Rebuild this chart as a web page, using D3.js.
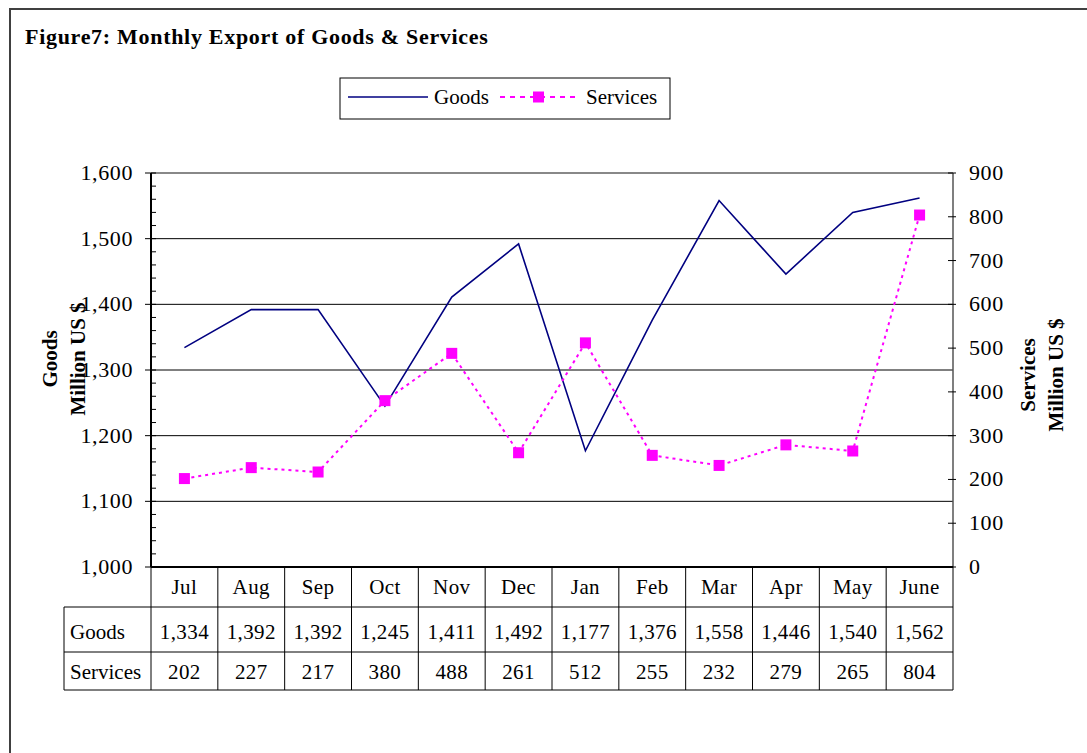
<!DOCTYPE html>
<html>
<head>
<meta charset="utf-8">
<script src="https://cdn.jsdelivr.net/npm/d3@7"></script>
<style>
    body { margin: 0; background: #fff; }
    svg { display: block; font-family: "Liberation Serif", "Times New Roman", serif; }
</style>
</head>
<body>
<div id="chart"></div>
<script>
const months = ["Jul","Aug","Sep","Oct","Nov","Dec","Jan","Feb","Mar","Apr","May","June"];
const goods = [1334,1392,1392,1245,1411,1492,1177,1376,1558,1446,1540,1562];
const services = [202,227,217,380,488,261,512,255,232,279,265,804];
const goodsTicks = [1000,1100,1200,1300,1400,1500,1600];
const servicesTicks = [0,100,200,300,400,500,600,700,800,900];

const render = () => {
    const width = 1087, height = 753;
    const left = 151, right = 953, top = 173, bottom = 567;

    let svg = d3.select("#chart").append("svg")
        .attr("width", width)
        .attr("height", height);

    // outer frame (runs off the picture on right + bottom)
    svg.append("rect")
        .attr("x", 10).attr("y", 9)
        .attr("width", 1200).attr("height", 900)
        .attr("fill", "none").attr("stroke", "#404040").attr("stroke-width", 2);

    svg.append("text")
        .attr("x", 25).attr("y", 44)
        .attr("font-size", 22).attr("font-weight", "bold")
        .attr("letter-spacing", 0.7)
        .text("Figure7: Monthly Export of Goods & Services");

    const x = d3.scaleBand().domain(months).range([left, right]);
    const yL = d3.scaleLinear().domain([1000, 1600]).range([bottom, top]);
    const yR = d3.scaleLinear().domain([0, 900]).range([bottom, top]);

    // gridlines
    svg.append("g")
        .selectAll("line")
        .data(goodsTicks.slice(1, -1))
        .join("line")
        .attr("x1", left).attr("x2", right)
        .attr("y1", d => yL(d)).attr("y2", d => yL(d))
        .attr("stroke", "#000").attr("stroke-width", 1);

    // plot border top
    svg.append("line")
        .attr("x1", left).attr("x2", right).attr("y1", top).attr("y2", top)
        .attr("stroke", "#888").attr("stroke-width", 2);

    // left axis
    let ax = svg.append("g");
    ax.append("line").attr("x1", left).attr("x2", left).attr("y1", top).attr("y2", bottom)
        .attr("stroke", "#000").attr("stroke-width", 2);
    ax.selectAll(".minor")
        .data(d3.range(1000, 1601, 20))
        .join("line")
        .attr("x1", left).attr("x2", left + 5)
        .attr("y1", d => yL(d)).attr("y2", d => yL(d))
        .attr("stroke", "#000");
    ax.selectAll(".major")
        .data(goodsTicks)
        .join("line")
        .attr("x1", left - 6).attr("x2", left)
        .attr("y1", d => yL(d)).attr("y2", d => yL(d))
        .attr("stroke", "#000");
    ax.selectAll("text")
        .data(goodsTicks)
        .join("text")
        .attr("x", 133).attr("y", d => yL(d) + 7)
        .attr("text-anchor", "end").attr("font-size", 22).attr("letter-spacing", 0.6)
        .text(d => d3.format(",")(d));

    // right axis
    let ar = svg.append("g");
    ar.append("line").attr("x1", right).attr("x2", right).attr("y1", top).attr("y2", bottom)
        .attr("stroke", "#555").attr("stroke-width", 1.5);
    ar.selectAll("line.t")
        .data(servicesTicks)
        .join("line")
        .attr("x1", right - 5).attr("x2", right + 3)
        .attr("y1", d => yR(d)).attr("y2", d => yR(d))
        .attr("stroke", "#000");
    ar.selectAll("text")
        .data(servicesTicks)
        .join("text")
        .attr("x", 969).attr("y", d => yR(d) + 7)
        .attr("font-size", 22).attr("letter-spacing", 0.6)
        .text(d => d);

    // axis titles
    const ttl = (cx, cy, lines) => {
        lines.forEach((t, i) => {
            svg.append("text")
                .attr("transform", `translate(${cx + i * 28},${cy}) rotate(-90)`)
                .attr("text-anchor", "middle")
                .attr("font-size", 21).attr("font-weight", "bold")
                .text(t);
        });
    };
    ttl(57, 359, ["Goods", "Million US $"]);
    ttl(1035, 375, ["Services", "Million US $"]);

    // goods line
    svg.append("path")
        .datum(goods)
        .attr("d", d3.line().x((d, i) => x(months[i]) + x.bandwidth() / 2).y(d => yL(d)))
        .attr("fill", "none").attr("stroke", "#000080").attr("stroke-width", 1.6);

    // services line + markers
    svg.append("path")
        .datum(services)
        .attr("d", d3.line().x((d, i) => x(months[i]) + x.bandwidth() / 2).y(d => yR(d)))
        .attr("fill", "none").attr("stroke", "#ff00ff").attr("stroke-width", 2)
        .attr("stroke-dasharray", "3,4");
    svg.append("g")
        .selectAll("rect")
        .data(services)
        .join("rect")
        .attr("x", (d, i) => x(months[i]) + x.bandwidth() / 2 - 5.5)
        .attr("y", d => yR(d) - 5.5)
        .attr("width", 11).attr("height", 11)
        .attr("fill", "#ff00ff");

    // data table
    const r0 = 567, r1 = 607, r2 = 652, r3 = 690, tl = 64;
    let tb = svg.append("g").attr("stroke", "#000").attr("stroke-width", 1);
    [r1, r2, r3].forEach(yy => tb.append("line").attr("x1", tl).attr("x2", right).attr("y1", yy).attr("y2", yy));
    tb.append("line").attr("x1", left).attr("x2", right).attr("y1", r0).attr("y2", r0).attr("stroke-width", 2);
    tb.append("line").attr("x1", tl).attr("x2", tl).attr("y1", r1).attr("y2", r3);
    tb.selectAll("line.v")
        .data(months.concat(["end"]))
        .join("line")
        .attr("x1", (d, i) => left + i * x.bandwidth()).attr("x2", (d, i) => left + i * x.bandwidth())
        .attr("y1", r0).attr("y2", r3);

    const cell = (vals, yy, fmt) => svg.append("g")
        .selectAll("text")
        .data(vals)
        .join("text")
        .attr("x", (d, i) => x(months[i]) + x.bandwidth() / 2)
        .attr("y", yy)
        .attr("text-anchor", "middle").attr("font-size", 21).attr("letter-spacing", 0.4)
        .text(fmt);
    cell(months, 594, d => d);
    cell(goods, 639, d => d3.format(",")(d));
    cell(services, 679, d => d);
    svg.append("text").attr("x", 70).attr("y", 639).attr("font-size", 21).text("Goods");
    svg.append("text").attr("x", 70).attr("y", 679).attr("font-size", 21).text("Services");

    // legend
    let lg = svg.append("g");
    lg.append("rect").attr("x", 340).attr("y", 78).attr("width", 330).attr("height", 41)
        .attr("fill", "#fff").attr("stroke", "#000");
    lg.append("line").attr("x1", 348).attr("x2", 428).attr("y1", 97).attr("y2", 97)
        .attr("stroke", "#000080").attr("stroke-width", 1.6);
    lg.append("text").attr("x", 434).attr("y", 104).attr("font-size", 21).text("Goods");
    lg.append("line").attr("x1", 500).attr("x2", 578).attr("y1", 97).attr("y2", 97)
        .attr("stroke", "#ff00ff").attr("stroke-width", 2).attr("stroke-dasharray", "5,5");
    lg.append("rect").attr("x", 533).attr("y", 91.5).attr("width", 11).attr("height", 11).attr("fill", "#ff00ff");
    lg.append("text").attr("x", 586).attr("y", 104).attr("font-size", 21).text("Services");
};

render();
</script>
</body>
</html>
